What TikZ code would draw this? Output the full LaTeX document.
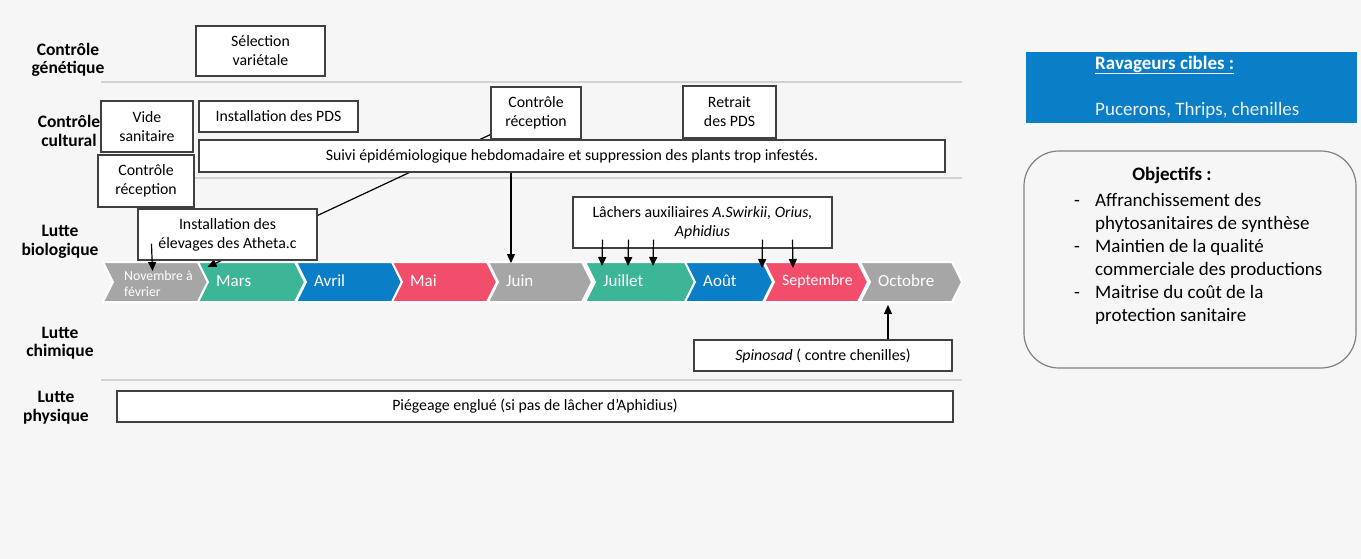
\documentclass[tikz,border=0pt]{standalone}
\usepackage{fontspec}
\setmainfont{Carlito}
\usetikzlibrary{arrows.meta,shapes.symbols,positioning}
\definecolor{fond}{HTML}{F6F6F6}
\definecolor{gristrait}{HTML}{D2D2D2}
\definecolor{bordure}{HTML}{404040}
\definecolor{grismois}{HTML}{A6A6A6}
\definecolor{vertmois}{HTML}{3DB597}
\definecolor{bleumois}{HTML}{0B7EC8}
\definecolor{rougemois}{HTML}{F24E6B}
\pgfdeclarelayer{fondlayer}
\pgfdeclarelayer{frise}
\pgfdeclarelayer{liens}
\pgfsetlayers{fondlayer,frise,liens,main}
\tikzset{
boite/.style={draw=bordure,fill=white,line width=1.1pt,align=center,inner sep=0pt,font=\fontsize{15.8}{19}\selectfont},
titre/.style={font=\fontsize{17.5}{18.5}\selectfont\bfseries,align=center},
mois/.style={signal,signal to=east,signal from=west,signal pointer angle=127,minimum height=40pt,inner sep=0pt,draw=white,line width=2pt},
moistxt/.style={anchor=west,text=white,inner sep=0pt,font=\fontsize{17}{19}\selectfont},
separ/.style={gristrait,line width=2pt},
fleche/.style={-{Stealth[length=9pt,width=8pt,inset=0pt]},line width=1.2pt},
panneau/.style={font=\fontsize{19}{23}\selectfont}
}
\begin{document}
\begin{tikzpicture}[x=1pt,y=-1pt]
\useasboundingbox(0,0)rectangle(1361,559);
\begin{pgfonlayer}{fondlayer}
\fill[fond](0,0)rectangle(1361,559);
\draw[separ](101,82)--(962,82);
\draw[separ](101,178)--(962,178);
\draw[separ](101,380)--(962,380);
\end{pgfonlayer}
\node[titre](genetique)at(68,60){Contrôle\\génétique};
\node[titre](cultural)at(69,131){Contrôle\\cultural};
\node[titre](biologique)at(60,242){Lutte\\biologique};
\node[titre](chimique)at(60,343){Lutte\\chimique};
\node[titre](physique)at(56,407.5){Lutte\\physique};
\begin{pgfonlayer}{frise}
\foreach \nom/\g/\d/\coul/\txt in{nov/103/208/grismois/{},mars/198/305/vertmois/Mars,avril/296/402/bleumois/Avril,mai/392/497/rougemois/Mai,juin/488/592/grismois/Juin,juillet/585/695/vertmois/Juillet,aout/685/773/bleumois/Août,sept/764/868/rougemois/{\fontsize{15.8}{17}\selectfont Septembre},oct/860/962/grismois/Octobre}
{\node[mois,fill=\coul,minimum width={(\d-\g)*1pt}](\nom)at({(\g+\d)/2},282){};
\node[moistxt]at(\g+18,281){\txt};}
\node[moistxt,align=left,font=\fontsize{13.8}{16.5}\selectfont]at(124,284){Novembre à\\février};
\end{pgfonlayer}
\node[boite,minimum width=129pt,minimum height=50pt](selection)at(260.5,51){Sélection\\variétale};
\node[boite,minimum width=92pt,minimum height=51pt](vide)at(147,126.5){Vide\\sanitaire};
\node[boite,minimum width=159pt,minimum height=31pt](pds)at(278.5,116.5){Installation des PDS};
\node[boite,minimum width=96pt,minimum height=52pt](recep1)at(146,181){Contrôle\\réception};
\node[boite,minimum width=90pt,minimum height=52pt](recep2)at(536,113){Contrôle\\réception};
\node[boite,minimum width=93pt,minimum height=52pt](retrait)at(729.5,112){Retrait\\des PDS};
\node[boite,minimum width=746pt,minimum height=32pt](suivi)at(572,156){Suivi épidémiologique hebdomadaire et suppression des plants trop infestés.};
\node[boite,minimum width=179pt,minimum height=51pt](atheta)at(227.5,234.5){Installation des\\élevages des Atheta.c};
\node[boite,minimum width=259pt,minimum height=51pt](lachers)at(702.5,222.5){Lâchers auxiliaires \textit{A.Swirkii, Orius,}\\\textit{Aphidius}};
\node[boite,minimum width=258pt,minimum height=31pt](spinosad)at(823,355.5){\textit{Spinosad} ( contre chenilles)};
\node[boite,minimum width=836pt,minimum height=31pt](piegeage)at(535,406.5){Piégeage englué (si pas de lâcher d’Aphidius)};
\begin{pgfonlayer}{liens}
\draw[fleche]([yshift=5pt]recep2.south west)--([xshift=-44pt,yshift=-6pt]mars.north);
\draw[fleche]([xshift=-25pt]recep2.south)--([xshift=-29pt,yshift=-2pt]juin.north);
\end{pgfonlayer}
\draw[fleche]([xshift=14pt,yshift=17pt]atheta.south west)--([xshift=-3pt,yshift=-10pt]nov.north);
\foreach \dx/\mo/\ex/\ey in{-100/juillet/-38/5,-74/juillet/-12/5,-49/juillet/13/5,60/aout/33/7,90/sept/-23/7}
{\draw[fleche]([xshift=\dx pt,yshift=9pt]lachers.south)--([xshift=\ex pt,yshift=-\ey pt]\mo.north);}
\draw[fleche]([xshift=65pt]spinosad.north)--([xshift=-23pt,yshift=-2pt]oct.south);
\node[fill=bleumois,minimum width=331pt,minimum height=71pt,inner sep=0pt](ravageurs)at(1191,87.5){};
\node[panneau,anchor=west,text=white,inner sep=0pt]at(1095,65){\underline{\textbf{Ravageurs cibles :}}};
\node[panneau,anchor=west,text=white!94!black,inner sep=0pt]at(1095,110){Pucerons, Thrips, chenilles};
\node[draw=gray,line width=1.2pt,rounded corners=35pt,minimum width=332pt,minimum height=217pt](objectifs)at(1190,259.5){};
\node[panneau,font=\fontsize{19}{23}\selectfont\bfseries]at(1172,175){Objectifs :};
\node[panneau,anchor=north west,inner sep=0pt]at(1074,190){\begin{tabular}{@{}p{21pt}@{}l@{}}
-&Affranchissement des\\&phytosanitaires de synthèse\\
-&Maintien de la qualité\\&commerciale des productions\\
-&Maitrise du coût de la\\&protection sanitaire
\end{tabular}};
\end{tikzpicture}
\end{document}
